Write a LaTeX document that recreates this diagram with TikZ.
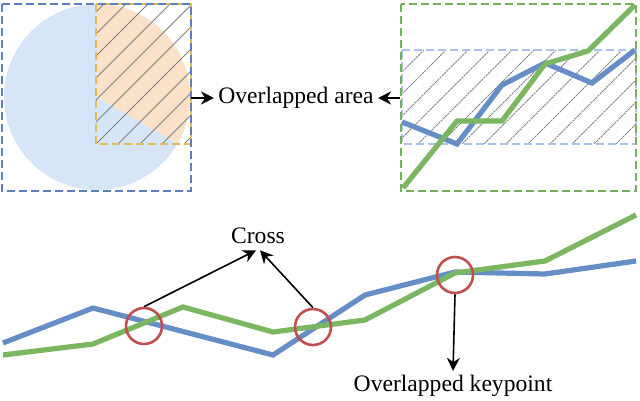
\documentclass[tikz,border=0pt]{standalone}
\usepackage{fontspec}
\setmainfont{Liberation Serif}
\usepackage{tikz}
\usetikzlibrary{arrows.meta,positioning}
\definecolor{ovblue}{HTML}{658DC6}
\definecolor{ovgreen}{HTML}{7BB661}
\definecolor{ovsky}{HTML}{D6E6F8}
\definecolor{ovpeach}{HTML}{FBE1C8}
\definecolor{ovgold}{HTML}{E0BB5A}
\definecolor{ovframe}{HTML}{5B80BD}
\definecolor{ovleaf}{HTML}{76B05A}
\definecolor{ovband}{HTML}{A9C4E8}
\definecolor{ovred}{HTML}{C0504D}

\begin{document}
\begin{tikzpicture}[
  x=0.5pt,y=-0.5pt,
  lbl/.style={font=\fontsize{11.8}{14}\selectfont,inner sep=2pt},
  frame/.style={line width=1.2pt,dash pattern=on 4pt off 2pt},
  hatch/.style={draw=gray,line width=0.5pt},
  track/.style={line width=2.6pt,line join=miter},
  ring/.style={draw=ovred,line width=1.3pt,circle,minimum size=18pt,inner sep=0pt},
  arr/.style={-{Stealth[length=6.5pt,width=6.5pt]},line width=0.8pt}
]
\useasboundingbox (0,0) rectangle (640,400);

% left panel
\fill[ovsky] (97,97) circle[radius=93];
\fill[ovpeach] (97,97) -- ++(30:93) arc[start angle=30,end angle=-90,radius=93] -- cycle;
\begin{scope}
  \clip (96,4) rectangle (191,144);
  \foreach \c in {86,108,...,350}
    \draw[hatch] (\c-144,144) -- (\c-4,4);
\end{scope}
\draw[frame,draw=ovgold] (96,4) rectangle (191,144);
\draw[frame,draw=ovframe] (2,4) rectangle (191,191);
\coordinate (lbox) at (191,98);

% right panel
\begin{scope}
  \clip (402,50) rectangle (636,144);
  \foreach \c in {430,452,...,800}
    \draw[hatch,dash pattern=on 1.2pt off 0.4pt] (\c-144,144) -- (\c-50,50);
\end{scope}
\draw[frame,draw=ovband,line width=0.9pt] (402,50) rectangle (636,144);
\draw[track,ovblue] (402,122) -- (457,144) -- (502,85) -- (545,63) -- (592,83) -- (635,50);
\draw[track,ovgreen] (403,188) -- (457,121) -- (502,121) -- (545,64) -- (588,51) -- (635,5);
\draw[frame,draw=ovleaf] (401,4) rectangle (636,191);
\coordinate (rbox) at (400,98);

\node[lbl] (area) at (296,98) {Overlapped area};
\draw[arr] (lbox) -- (area);
\draw[arr] (rbox) -- (area);

% bottom tracks
\draw[track,ovblue] (3,343) -- (93,308) -- (273,355) -- (365,295) -- (455,272) -- (545,274) -- (636,261);
\draw[track,ovgreen] (3,355) -- (93,344) -- (183,307) -- (273,332) -- (365,320) -- (455,273) -- (545,261) -- (636,215);

\node[ring] (c1) at (144,326) {};
\node[ring] (c2) at (313,327) {};
\node[ring] (c3) at (455,275) {};

\node[lbl] (cross) at (258,236) {Cross};
\node[lbl] (keypt) at (453,386) {Overlapped keypoint};

\draw[arr] (c1.north) -- ([xshift=-1pt,yshift=-1pt]cross.south);
\draw[arr] (c2.north) -- ([xshift=1pt,yshift=-1pt]cross.south);
\draw[arr] (c3.south) -- (keypt.north);
\end{tikzpicture}
\end{document}
